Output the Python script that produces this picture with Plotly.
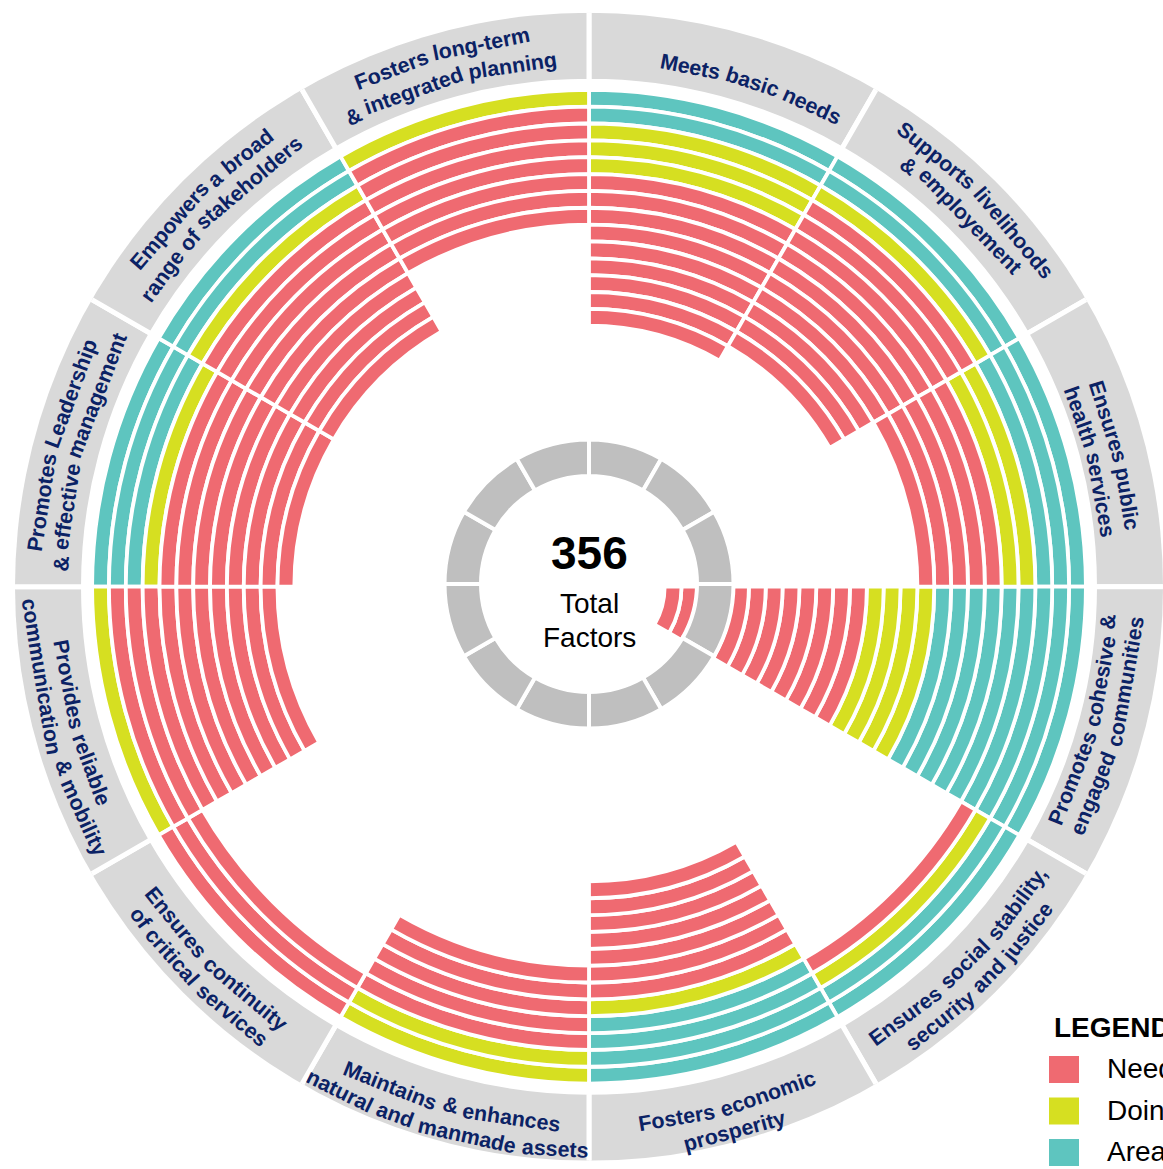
import math
import plotly.graph_objects as go

# ---------------- data ----------------
goal_lines = [
    ["Meets basic needs"],
    ["Supports livelihoods", "& employement"],
    ["Ensures public", "health services"],
    ["Promotes cohesive &", "engaged communities"],
    ["Ensures social stability,", "security and justice"],
    ["Fosters economic", "prosperity"],
    ["Maintains & enhances", "natural and manmade assets"],
    ["Ensures continuity", "of critical services"],
    ["Provides reliable", "communication & mobility"],
    ["Promotes Leadership", "& effective management"],
    ["Empowers a broad", "range of stakeholders"],
    ["Fosters long-term", "& integrated planning"],
]
needs_improvement = [9, 10, 5, 12, 1, 7, 5, 3, 10, 8, 9, 7]
doing_well = [3, 1, 2, 4, 1, 1, 2, 0, 1, 1, 1, 1]
area_of_strength = [2, 2, 3, 9, 2, 4, 0, 0, 0, 3, 2, 0]
total_factors = 356
center_caption = ["Total", "Factors"]
legend_title = "LEGEND"
legend_labels = ["Needs Improvement", "Doing Well", "Area of Strength"]

# ---------------- styling / geometry ----------------
W, H = 1163, 1169
CX, CY = 589.0, 586.7          # centre of the rings (px)
R_MAX = 574.0                  # polar radius that fits the page
OUTER = 495.0                  # outer edge of outermost ring
PITCH = 16.85
RING = 13.05
LW = 3.8                       # white outline -> gaps
BAND_IN, BAND_OUT, BAND_LW = 508.0, 580.0, 5.0
G_CX, G_CY, G_R = 589.0, 584.0, 160.0
G_IN, G_OUT, G_LW = 110.0, 142.5, 4.0

RED, YELLOW, TEAL = "#EF6A71", "#D6DF21", "#5EC5BF"
BAND_GRAY, CENTER_GRAY = "#D9D9D9", "#BFBFBF"
NAVY = "#0B2265"
FONT = "Liberation Sans, Arial, Helvetica, sans-serif"

# label placement: radius (px) of each text line and angular nudge (deg) per sector
LABEL_R = [
    [530], [553, 528], [545, 520], [520, 545], [533, 558], [538, 563],
    [537, 563], [533, 558], [530, 555], [553, 528], [553, 528], [553, 526],
]
LABEL_SHIFT = [3, 0, 1, 0, 0, 0, 0, 0, 0, 0, 0, -0.5]
LABEL_FS = 21.4

n = len(goal_lines)
sector_w = 360.0 / n
theta_mid = [sector_w * (i + 0.5) for i in range(n)]

fig = go.Figure()

# rings: outermost first -> teal, then yellow, then red
series = [
    (legend_labels[2], area_of_strength, TEAL),
    (legend_labels[1], doing_well, YELLOW),
    (legend_labels[0], needs_improvement, RED),
]
offsets = [0] * n
for name, counts, color in series:
    th, base, length = [], [], []
    for i in range(n):
        for k in range(counts[i]):
            j = offsets[i] + k
            vis_out = OUTER - j * PITCH
            vis_in = vis_out - RING
            th.append(theta_mid[i])
            base.append(vis_in - LW / 2)
            length.append(RING + LW)
        offsets[i] += counts[i]
    fig.add_trace(go.Barpolar(
        theta=th, base=base, r=length, width=sector_w, name=name,
        marker=dict(color=color, line=dict(color="white", width=LW)),
        hoverinfo="skip", subplot="polar",
    ))

# label band
fig.add_trace(go.Barpolar(
    theta=theta_mid, base=[BAND_IN - BAND_LW / 2] * n,
    r=[BAND_OUT - BAND_IN + BAND_LW] * n, width=sector_w,
    marker=dict(color=BAND_GRAY, line=dict(color="white", width=BAND_LW)),
    hoverinfo="skip", subplot="polar", showlegend=False,
))

# centre grey ring
fig.add_trace(go.Barpolar(
    theta=theta_mid, base=[G_IN - G_LW / 2] * n,
    r=[G_OUT - G_IN + G_LW] * n, width=sector_w,
    marker=dict(color=CENTER_GRAY, line=dict(color="white", width=G_LW)),
    hoverinfo="skip", subplot="polar2", showlegend=False,
))

hidden_axes = dict(
    bgcolor="rgba(0,0,0,0)",
    angularaxis=dict(rotation=90, direction="clockwise", visible=False,
                     showgrid=False, showline=False, ticks=""),
)
fig.update_layout(
    polar=dict(
        domain=dict(x=[(CX - R_MAX) / W, (CX + R_MAX) / W],
                    y=[(H - CY - R_MAX) / H, (H - CY + R_MAX) / H]),
        radialaxis=dict(range=[0, R_MAX], visible=False, showgrid=False),
        **hidden_axes,
    ),
    polar2=dict(
        domain=dict(x=[(G_CX - G_R) / W, (G_CX + G_R) / W],
                    y=[(H - G_CY - G_R) / H, (H - G_CY + G_R) / H]),
        radialaxis=dict(range=[0, G_R], visible=False, showgrid=False),
        **hidden_axes,
    ),
)

# ---------------- curved labels (word by word) ----------------
AB = {' ': 278, '&': 722, ',': 278, '-': 333, '.': 278,
      'A': 722, 'B': 722, 'C': 722, 'D': 722, 'E': 667, 'F': 611, 'G': 778,
      'H': 722, 'I': 278, 'J': 556, 'K': 722, 'L': 611, 'M': 833, 'N': 722,
      'O': 778, 'P': 667, 'Q': 778, 'R': 722, 'S': 667, 'T': 611, 'U': 722,
      'V': 667, 'W': 944, 'X': 667, 'Y': 667, 'Z': 611,
      'a': 556, 'b': 611, 'c': 556, 'd': 611, 'e': 556, 'f': 333, 'g': 611,
      'h': 611, 'i': 278, 'j': 278, 'k': 556, 'l': 278, 'm': 889, 'n': 611,
      'o': 611, 'p': 611, 'q': 611, 'r': 389, 's': 556, 't': 333, 'u': 611,
      'v': 556, 'w': 778, 'x': 556, 'y': 556, 'z': 500}


def tw(s, fs):
    return sum(AB.get(c, 556) for c in s) * fs / 1000.0


def px2paper(x, y):
    return x / W, 1 - y / H


annotations = []
for i, lines in enumerate(goal_lines):
    tm = theta_mid[i] + LABEL_SHIFT[i]
    top = theta_mid[i] < 90 or theta_mid[i] > 270
    for line, r in zip(lines, LABEL_R[i]):
        words = line.split(" ")
        widths = [tw(w_, LABEL_FS) for w_ in words]
        sp = tw(" ", LABEL_FS)
        total = sum(widths) + sp * (len(words) - 1)
        s = -total / 2
        for word, wd in zip(words, widths):
            sc = s + wd / 2
            s += wd + sp
            d = math.degrees(sc / r)
            th = tm + d if top else tm - d
            x = CX + r * math.sin(math.radians(th))
            y = CY - r * math.cos(math.radians(th))
            ang = th if top else th - 180
            ang = (ang + 180) % 360 - 180
            px, py = px2paper(x, y)
            annotations.append(dict(
                x=px, y=py, xref="paper", yref="paper", text=word,
                showarrow=False, textangle=ang, xanchor="center", yanchor="middle",
                font=dict(family=FONT, size=LABEL_FS, color=NAVY, weight="bold"),
            ))

# centre text
px, py = px2paper(G_CX, 553)
annotations.append(dict(x=px, y=py, xref="paper", yref="paper", text=f"<b>{total_factors}</b>",
                        showarrow=False, xanchor="center", yanchor="middle",
                        font=dict(family=FONT, size=46, color="black")))
for txt, yy in zip(center_caption, [603, 637]):
    px, py = px2paper(G_CX, yy)
    annotations.append(dict(x=px, y=py, xref="paper", yref="paper", text=txt,
                            showarrow=False, xanchor="center", yanchor="middle",
                            font=dict(family=FONT, size=28, color="black")))

# legend (partly off the page, as in the reference)
px, py = px2paper(1052, 1027)
annotations.append(dict(x=px, y=py, xref="paper", yref="paper", text=f"<b>{legend_title}</b>",
                        showarrow=False, xanchor="left", yanchor="middle",
                        font=dict(family=FONT, size=28, color="black")))
shapes = []
for k, (lab, col) in enumerate(zip(legend_labels, [RED, YELLOW, TEAL])):
    yc = 1069.5 + k * 41.5
    x0, y0 = px2paper(1049, yc - 13.5)
    x1, y1 = px2paper(1079, yc + 13.5)
    shapes.append(dict(type="rect", xref="paper", yref="paper", x0=x0, x1=x1, y0=y1, y1=y0,
                       fillcolor=col, line=dict(width=0)))
    tx, ty = px2paper(1105, yc - 1)
    annotations.append(dict(x=tx, y=ty, xref="paper", yref="paper", text=lab,
                            showarrow=False, xanchor="left", yanchor="middle",
                            font=dict(family=FONT, size=28, color="black")))

fig.update_layout(
    width=W, height=H, margin=dict(l=0, r=0, t=0, b=0, pad=0, autoexpand=False),
    paper_bgcolor="white", plot_bgcolor="white", showlegend=False,
    annotations=annotations, shapes=shapes,
)

fig.write_html(
    "out.html",
    config={"displayModeBar": False},
    post_script="document.body.style.margin='0px';document.body.style.overflow='hidden';",
)
